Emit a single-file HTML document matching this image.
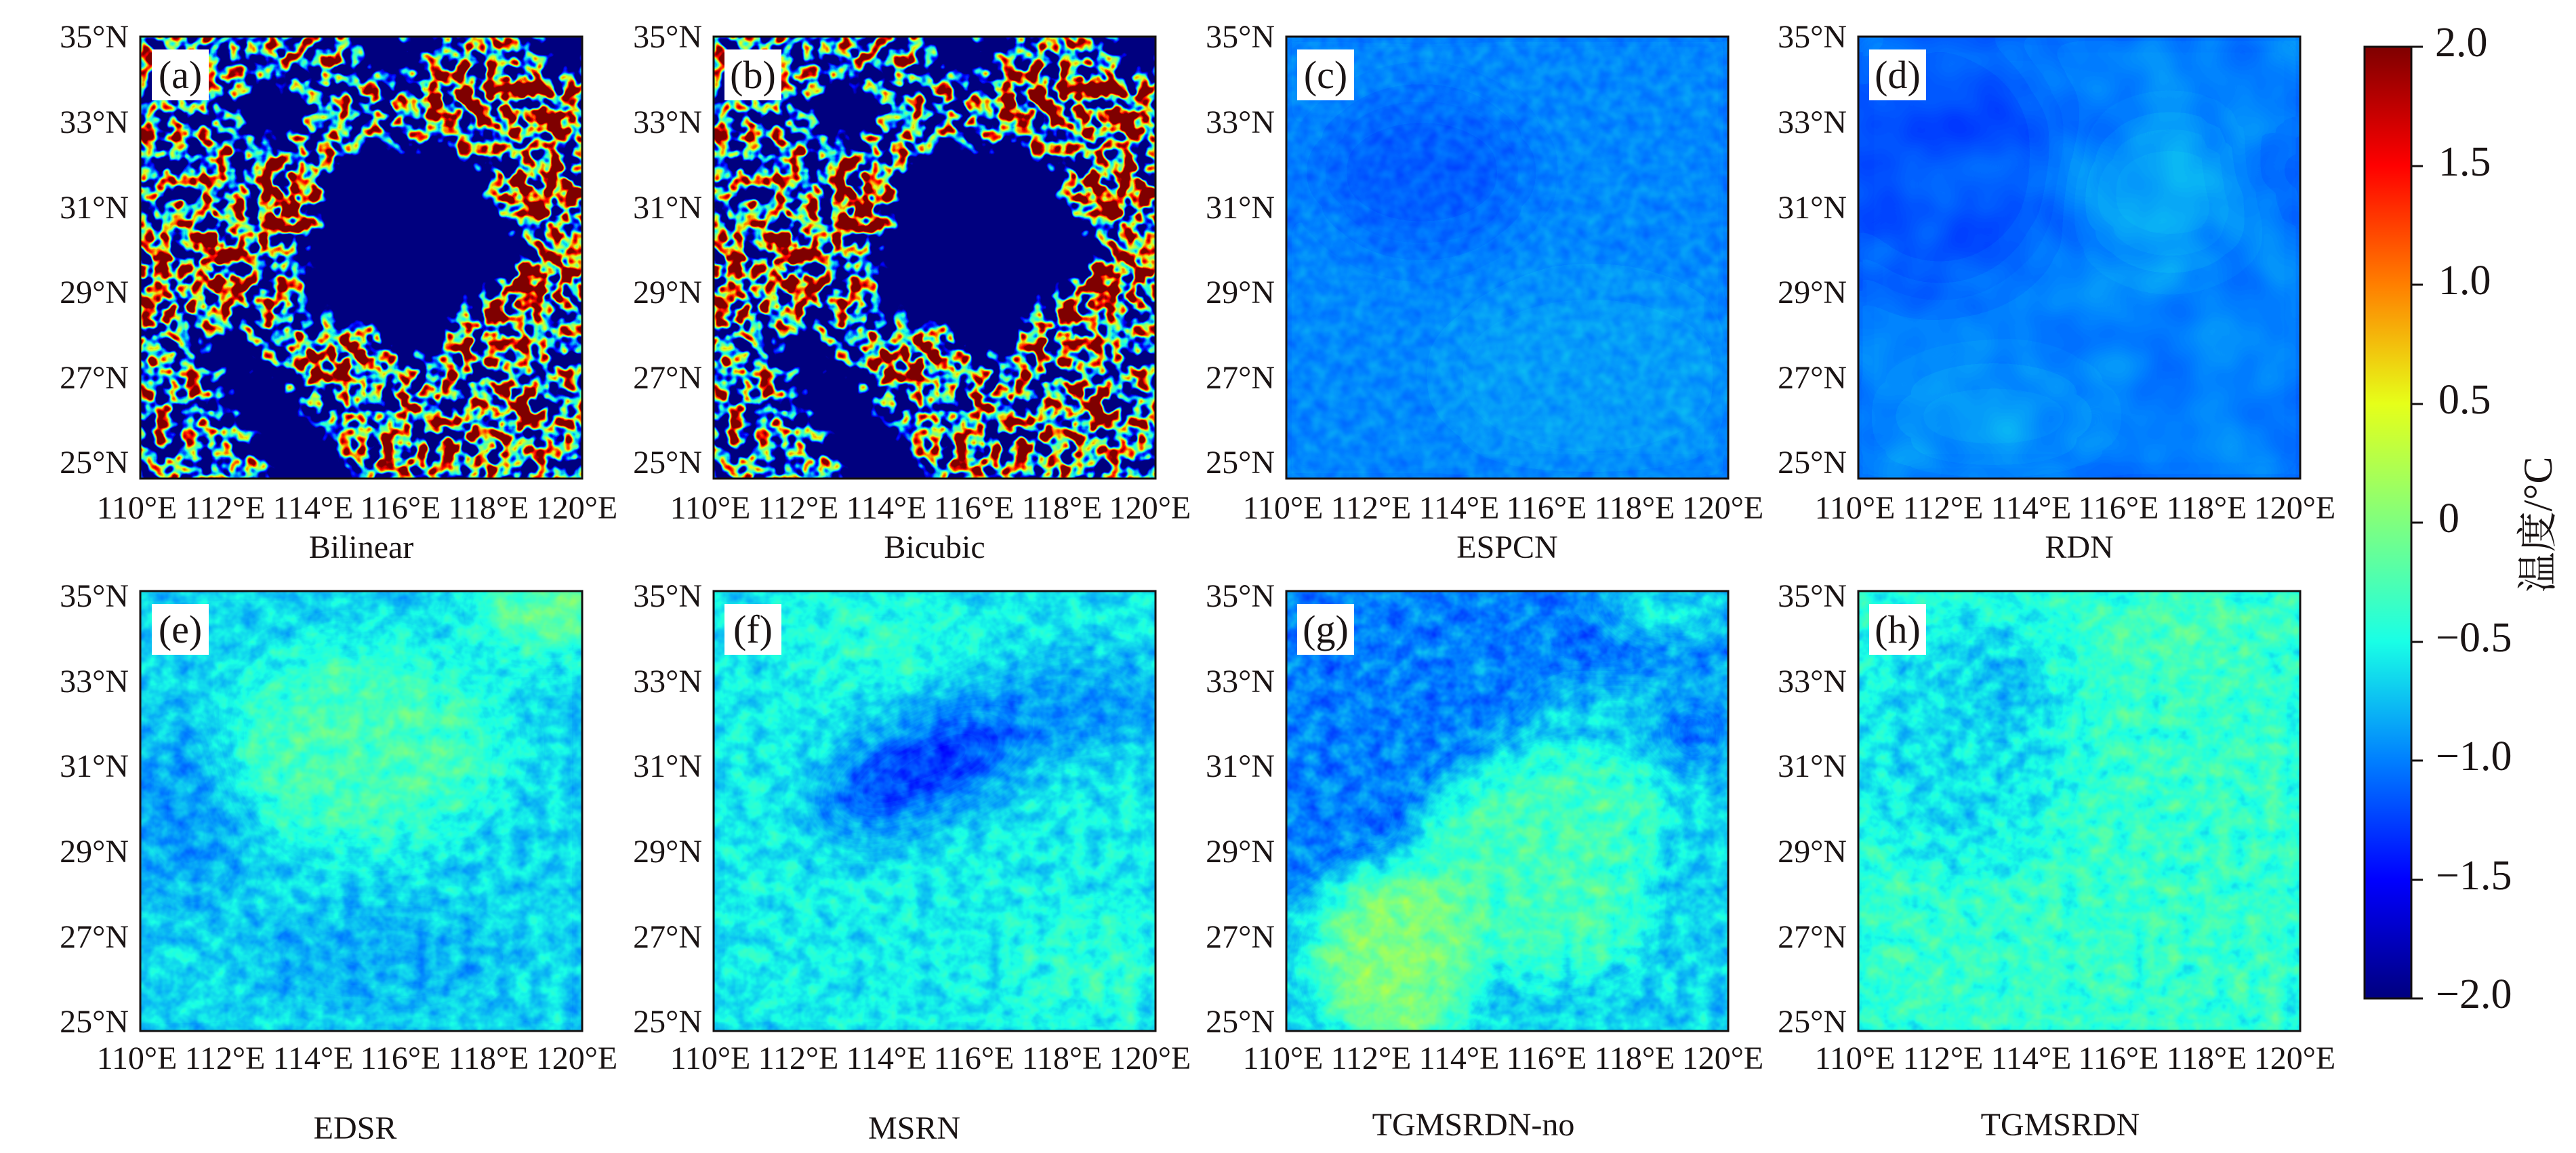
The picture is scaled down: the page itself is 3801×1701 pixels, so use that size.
<!DOCTYPE html>
<html><head><meta charset="utf-8"><style>
html,body{margin:0;padding:0;background:#fff;}
svg{display:block;}
text{font-family:"Liberation Serif","Noto Serif CJK SC",serif;fill:#1a1414;}
</style></head><body>
<svg width="3801" height="1701" viewBox="0 0 3801 1701" xmlns="http://www.w3.org/2000/svg">
<defs>
<filter id="blur18" x="-20%" y="-20%" width="140%" height="140%"><feGaussianBlur stdDeviation="18"/></filter>
<filter id="blur30" x="-20%" y="-20%" width="140%" height="140%"><feGaussianBlur stdDeviation="30"/></filter>
<filter id="blur40" x="-20%" y="-20%" width="140%" height="140%"><feGaussianBlur stdDeviation="40"/></filter>
<filter id="jAB" filterUnits="userSpaceOnUse" x="0" y="0" width="652" height="652" color-interpolation-filters="sRGB">
<feTurbulence type="fractalNoise" baseFrequency="0.045" numOctaves="2" seed="3" result="n"/>
<feColorMatrix in="n" type="matrix" values="1 0 0 0 0 1 0 0 0 0 1 0 0 0 0 0 0 0 0 1" result="ng"/>
<feComposite in="SourceGraphic" in2="ng" operator="arithmetic" k1="5" k2="0" k3="0" k4="-1.5" result="s"/>
<feComponentTransfer in="s"><feFuncR type="table" tableValues="0 0 0 0.1 0.5 0.9 1 1 0.5"/><feFuncG type="table" tableValues="0 0 0.5 1 1 1 0.5 0 0"/><feFuncB type="table" tableValues="0.5 1 1 0.9 0.5 0.1 0 0 0"/><feFuncA type="linear" slope="0" intercept="1"/></feComponentTransfer>
</filter>
<filter id="jS1" filterUnits="userSpaceOnUse" x="0" y="0" width="652" height="652" color-interpolation-filters="sRGB">
<feTurbulence type="fractalNoise" baseFrequency="0.05" numOctaves="2" seed="7" result="n"/>
<feColorMatrix in="n" type="matrix" values="1 0 0 0 0 1 0 0 0 0 1 0 0 0 0 0 0 0 0 1" result="ng"/>
<feComposite in="SourceGraphic" in2="ng" operator="arithmetic" k1="0" k2="1" k3="0.08" k4="-0.04" result="s"/>
<feComponentTransfer in="s"><feFuncR type="table" tableValues="0 0 0 0.1 0.5 0.9 1 1 0.5"/><feFuncG type="table" tableValues="0 0 0.5 1 1 1 0.5 0 0"/><feFuncB type="table" tableValues="0.5 1 1 0.9 0.5 0.1 0 0 0"/><feFuncA type="linear" slope="0" intercept="1"/></feComponentTransfer>
</filter>
<filter id="jS2" filterUnits="userSpaceOnUse" x="0" y="0" width="652" height="652" color-interpolation-filters="sRGB">
<feTurbulence type="fractalNoise" baseFrequency="0.012" numOctaves="2" seed="5" result="n"/>
<feColorMatrix in="n" type="matrix" values="1 0 0 0 0 1 0 0 0 0 1 0 0 0 0 0 0 0 0 1" result="ng"/>
<feComposite in="SourceGraphic" in2="ng" operator="arithmetic" k1="0" k2="1" k3="0.08" k4="-0.04" result="s"/>
<feComponentTransfer in="s"><feFuncR type="table" tableValues="0 0 0 0.1 0.5 0.9 1 1 0.5"/><feFuncG type="table" tableValues="0 0 0.5 1 1 1 0.5 0 0"/><feFuncB type="table" tableValues="0.5 1 1 0.9 0.5 0.1 0 0 0"/><feFuncA type="linear" slope="0" intercept="1"/></feComponentTransfer>
</filter>
<filter id="jS3" filterUnits="userSpaceOnUse" x="0" y="0" width="652" height="652" color-interpolation-filters="sRGB">
<feTurbulence type="fractalNoise" baseFrequency="0.04" numOctaves="3" seed="11" result="n"/>
<feColorMatrix in="n" type="matrix" values="1 0 0 0 0 1 0 0 0 0 1 0 0 0 0 0 0 0 0 1" result="ng"/>
<feComposite in="SourceGraphic" in2="ng" operator="arithmetic" k1="0" k2="1" k3="0.18" k4="-0.09" result="s"/>
<feComponentTransfer in="s"><feFuncR type="table" tableValues="0 0 0 0.1 0.5 0.9 1 1 0.5"/><feFuncG type="table" tableValues="0 0 0.5 1 1 1 0.5 0 0"/><feFuncB type="table" tableValues="0.5 1 1 0.9 0.5 0.1 0 0 0"/><feFuncA type="linear" slope="0" intercept="1"/></feComponentTransfer>
</filter>
<linearGradient id="cb" x1="0" y1="1" x2="0" y2="0">
<stop offset="0" stop-color="#00007f"/><stop offset="0.125" stop-color="#0000ff"/><stop offset="0.25" stop-color="#007fff"/><stop offset="0.375" stop-color="#19ffe6"/><stop offset="0.5" stop-color="#7fff7f"/><stop offset="0.625" stop-color="#e6ff19"/><stop offset="0.75" stop-color="#ff7f00"/><stop offset="0.875" stop-color="#ff0000"/><stop offset="1" stop-color="#7f0000"/>
</linearGradient>
<g id="abShapes">
<rect x="-60" y="-60" width="772" height="772" fill="#b8b8b8"/>
<polygon points="220,250 340,150 500,180 590,300 450,470 330,480 250,400" fill="#444"/>
<ellipse cx="190" cy="110" rx="55" ry="45" fill="#555"/>
<ellipse cx="370" cy="30" rx="60" ry="35" fill="#666"/>
<ellipse cx="630" cy="20" rx="50" ry="40" fill="#555"/>
<polygon points="80,440 140,420 310,620 290,700 210,700" fill="#5a5a5a"/>
<polygon points="420,60 560,50 640,90 640,160 560,130 430,120" fill="#f2f2f2"/>
<ellipse cx="590" cy="240" rx="70" ry="45" fill="#f2f2f2"/>
<polygon points="450,440 560,340 650,300 650,360 560,420 470,480" fill="#eee"/>
<ellipse cx="115" cy="340" rx="30" ry="80" fill="#f0f0f0"/>
<ellipse cx="215" cy="250" rx="50" ry="60" fill="#eee"/>
<ellipse cx="300" cy="470" rx="70" ry="40" fill="#e6e6e6"/>
<ellipse cx="540" cy="560" rx="60" ry="50" fill="#e0e0e0"/>
<ellipse cx="30" cy="380" rx="25" ry="70" fill="#e8e8e8"/>
<ellipse cx="430" cy="590" rx="130" ry="60" fill="#c8c8c8"/>
</g>
</defs>

<svg x="207" y="54" width="652" height="652"><g filter="url(#jAB)"><g filter="url(#blur18)"><use href="#abShapes"/></g></g></svg>
<svg x="1053" y="54" width="652" height="652"><g filter="url(#jAB)"><g filter="url(#blur18)"><use href="#abShapes"/></g></g></svg>
<svg x="1898" y="54" width="652" height="652"><g filter="url(#jS1)"><g filter="url(#blur40)">
<rect x="-60" y="-60" width="772" height="772" fill="#424242"/>
<ellipse cx="200" cy="200" rx="160" ry="120" fill="#393939"/>
<ellipse cx="450" cy="500" rx="220" ry="140" fill="#474747"/>
</g></g></svg>
<svg x="2742" y="54" width="652" height="652"><g filter="url(#jS2)"><g filter="url(#blur40)">
<rect x="-60" y="-60" width="772" height="772" fill="#414141"/>
<ellipse cx="120" cy="180" rx="180" ry="200" fill="#343434"/>
<ellipse cx="460" cy="230" rx="130" ry="110" fill="#4a4a4a"/>
<ellipse cx="200" cy="560" rx="160" ry="80" fill="#464646"/>
<ellipse cx="620" cy="200" rx="60" ry="60" fill="#3b3b3b"/>
</g></g></svg>
<svg x="207" y="872" width="652" height="649"><g filter="url(#jS3)"><g filter="url(#blur40)">
<rect x="-60" y="-60" width="772" height="772" fill="#575757"/>
<ellipse cx="70" cy="330" rx="90" ry="150" fill="#464646"/>
<ellipse cx="330" cy="230" rx="200" ry="140" fill="#6e6e6e"/>
<ellipse cx="610" cy="20" rx="110" ry="60" fill="#7d7d7d"/>
<ellipse cx="350" cy="540" rx="200" ry="70" fill="#4c4c4c"/>
</g></g></svg>
<svg x="1053" y="872" width="652" height="649"><g filter="url(#jS3)"><g filter="url(#blur40)">
<rect x="-60" y="-60" width="772" height="772" fill="#5c5c5c"/>
<ellipse cx="330" cy="250" rx="200" ry="75" fill="#2a2a2a" transform="rotate(-25 330 250)"/>
<ellipse cx="540" cy="170" rx="130" ry="80" fill="#454545"/>
<ellipse cx="560" cy="560" rx="120" ry="80" fill="#666"/>
<ellipse cx="240" cy="60" rx="120" ry="60" fill="#666"/>
</g></g></svg>
<svg x="1898" y="872" width="652" height="649"><g filter="url(#jS3)"><g filter="url(#blur30)">
<rect x="-60" y="-60" width="772" height="772" fill="#555"/>
<polygon points="-60,-60 700,-60 700,120 420,130 260,300 150,420 -60,480" fill="#404040"/>
<ellipse cx="500" cy="80" rx="90" ry="40" fill="#333"/>
<ellipse cx="600" cy="210" rx="50" ry="50" fill="#303030"/>
<ellipse cx="180" cy="390" rx="50" ry="70" fill="#343434"/>
<ellipse cx="400" cy="400" rx="210" ry="160" fill="#6d6d6d"/>
<ellipse cx="160" cy="540" rx="110" ry="130" fill="#808080"/>
<ellipse cx="600" cy="500" rx="80" ry="200" fill="#555"/>
<ellipse cx="560" cy="30" rx="90" ry="40" fill="#606060"/>
</g></g></svg>
<svg x="2742" y="872" width="652" height="649"><g filter="url(#jS3)"><g filter="url(#blur40)">
<rect x="-60" y="-60" width="772" height="772" fill="#676767"/>
<ellipse cx="150" cy="220" rx="160" ry="200" fill="#595959"/>
<ellipse cx="230" cy="120" rx="70" ry="60" fill="#4e4e4e"/>
<ellipse cx="480" cy="60" rx="120" ry="50" fill="#6f6f6f"/>
</g></g></svg>

<g fill="none" stroke="#141010" stroke-width="3">
<rect x="207" y="54" width="652" height="652"/><rect x="1053" y="54" width="652" height="652"/><rect x="1898" y="54" width="652" height="652"/><rect x="2742" y="54" width="652" height="652"/>
<rect x="207" y="872" width="652" height="649"/><rect x="1053" y="872" width="652" height="649"/><rect x="1898" y="872" width="652" height="649"/><rect x="2742" y="872" width="652" height="649"/>
</g>

<g fill="#fff">
<rect x="224" y="73" width="84" height="75"/><rect x="1069" y="73" width="84" height="75"/><rect x="1914" y="73" width="84" height="75"/><rect x="2758" y="73" width="84" height="75"/>
<rect x="224" y="891" width="84" height="75"/><rect x="1069" y="891" width="84" height="75"/><rect x="1914" y="891" width="84" height="75"/><rect x="2758" y="891" width="84" height="75"/>
</g>
<g font-size="58" text-anchor="middle">
<text x="266" y="130">(a)</text><text x="1111" y="130">(b)</text><text x="1956" y="130">(c)</text><text x="2800" y="130">(d)</text>
<text x="266" y="948">(e)</text><text x="1111" y="948">(f)</text><text x="1956" y="948">(g)</text><text x="2800" y="948">(h)</text>
</g>

<g font-size="48" text-anchor="end">
<g id="ylt">
<text x="190" y="70">35°N</text><text x="190" y="196">33°N</text><text x="190" y="322">31°N</text><text x="190" y="447">29°N</text><text x="190" y="573">27°N</text><text x="190" y="698">25°N</text>
</g>
<use href="#ylt" x="846"/><use href="#ylt" x="1691"/><use href="#ylt" x="2535"/>
<g id="ylb">
<text x="190" y="895">35°N</text><text x="190" y="1021">33°N</text><text x="190" y="1146">31°N</text><text x="190" y="1272">29°N</text><text x="190" y="1398">27°N</text><text x="190" y="1523">25°N</text>
</g>
<use href="#ylb" x="846"/><use href="#ylb" x="1691"/><use href="#ylb" x="2535"/>
</g>

<g font-size="48" text-anchor="middle">
<g id="xlt">
<text x="202" y="765">110°E</text><text x="332" y="765">112°E</text><text x="462" y="765">114°E</text><text x="591" y="765">116°E</text><text x="721" y="765">118°E</text><text x="851" y="765">120°E</text>
</g>
<use href="#xlt" x="846"/><use href="#xlt" x="1691"/><use href="#xlt" x="2535"/>
<use href="#xlt" y="812"/><use href="#xlt" x="846" y="812"/><use href="#xlt" x="1691" y="812"/><use href="#xlt" x="2535" y="812"/>
</g>

<g font-size="48" text-anchor="middle">
<text x="533" y="823">Bilinear</text><text x="1379" y="823">Bicubic</text><text x="2224" y="823">ESPCN</text><text x="3068" y="823">RDN</text>
<text x="524" y="1680">EDSR</text><text x="1349" y="1680">MSRN</text><text x="2174" y="1675">TGMSRDN-no</text><text x="3040" y="1675">TGMSRDN</text>
</g>

<rect x="3489" y="69" width="69" height="1404" fill="url(#cb)" stroke="#141010" stroke-width="3"/>
<g stroke="#141010" stroke-width="3">
<line x1="3558" y1="69" x2="3575" y2="69"/><line x1="3558" y1="245" x2="3575" y2="245"/><line x1="3558" y1="420" x2="3575" y2="420"/><line x1="3558" y1="596" x2="3575" y2="596"/><line x1="3558" y1="771" x2="3575" y2="771"/><line x1="3558" y1="947" x2="3575" y2="947"/><line x1="3558" y1="1122" x2="3575" y2="1122"/><line x1="3558" y1="1298" x2="3575" y2="1298"/><line x1="3558" y1="1473" x2="3575" y2="1473"/>
</g>
<g font-size="62">
<text x="3593" y="83">2.0</text><text x="3598" y="259">1.5</text><text x="3598" y="434">1.0</text><text x="3598" y="610">0.5</text><text x="3598" y="785">0</text>
<text x="3594" y="961">−0.5</text><text x="3594" y="1136">−1.0</text><text x="3594" y="1312">−1.5</text><text x="3594" y="1487">−2.0</text>
</g>
<text font-size="60" text-anchor="middle" transform="translate(3765 774) rotate(-90)">温度/°C</text>
</svg>
</body></html>
